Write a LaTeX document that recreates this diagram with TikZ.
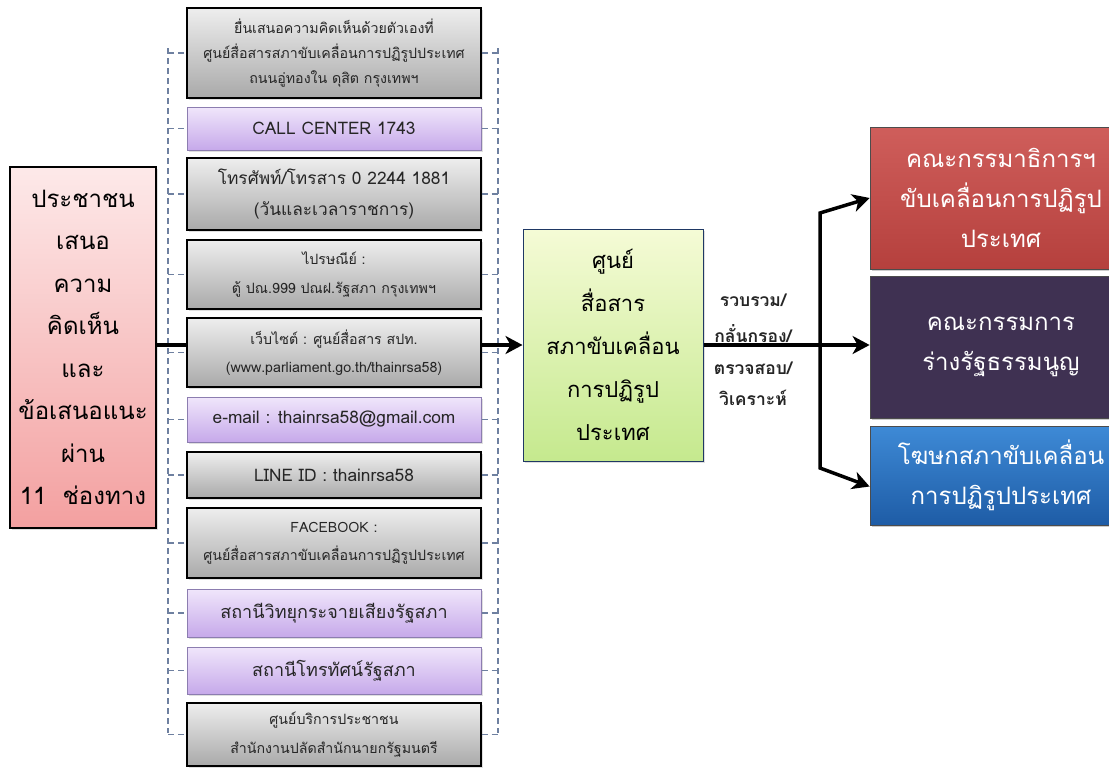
\documentclass[tikz,border=0pt]{standalone}
\usepackage{fontspec}
\newfontfamily\thai[Script=Thai]{Loma}
\usetikzlibrary{arrows.meta,shadows}
\definecolor{graytop}{HTML}{EEEEEE}
\definecolor{graybot}{HTML}{A9A9A9}
\definecolor{purtop}{HTML}{F0E6FB}
\definecolor{purbot}{HTML}{C6A9EA}
\definecolor{purdraw}{HTML}{8C7DB0}
\definecolor{pinktop}{HTML}{FDE9E9}
\definecolor{pinkbot}{HTML}{F3A0A0}
\definecolor{greentop}{HTML}{F5FBD6}
\definecolor{greenbot}{HTML}{C5E98E}
\definecolor{greendraw}{HTML}{1F3864}
\definecolor{redtop}{HTML}{CF5E5B}
\definecolor{redbot}{HTML}{B5403D}
\definecolor{darkpur}{HTML}{3F3152}
\definecolor{bluetop}{HTML}{3E8AD6}
\definecolor{bluebot}{HTML}{1E5CA6}
\definecolor{dashcol}{HTML}{6E80A0}
\definecolor{txtgray}{HTML}{262626}
\begin{document}
\begin{tikzpicture}[x=1pt,y=-1pt,
  chanbox/.style={minimum width=294pt, inner sep=0pt, align=center, text=txtgray,
    drop shadow={opacity=0.25, shadow xshift=1.5pt, shadow yshift=-1.5pt}},
  graybox/.style={chanbox, draw=black, line width=1.3pt, top color=graytop, bottom color=graybot},
  purbox/.style={chanbox, draw=purdraw, line width=1pt, top color=purtop, bottom color=purbot},
  tight/.style={font=\thai\fontsize{14.2}{25}\selectfont},
  small/.style={font=\thai\fontsize{14.2}{28.5}\selectfont},
  medium/.style={font=\thai\fontsize{17.3}{31}\selectfont},
  large/.style={font=\thai\fontsize{18}{25}\selectfont},
  bigbox/.style={inner sep=0pt, align=center},
  outbox/.style={bigbox, minimum width=262pt, draw=black!70, line width=0.8pt, text=white,
    font=\thai\fontsize{24}{40}\selectfont,
    drop shadow={opacity=0.4, shadow xshift=2pt, shadow yshift=-2pt}},
  bracket/.style={draw=dashcol, line width=1.6pt, dash pattern=on 6pt off 4pt},
  thickline/.style={line width=3.5pt, line join=miter},
  thickarrow/.style={thickline, -{Stealth[length=17pt,width=18pt,inset=5pt]}},
  lab/.style={font=\thai\bfseries\fontsize{17.5}{20}\selectfont, text=txtgray, inner sep=0pt}
]
\useasboundingbox[fill=white] (0,0) rectangle (1109,769);

% dashed bracket
\coordinate (lt) at (168,48);
\coordinate (lb) at (168,733);
\coordinate (rt) at (498,48);
\coordinate (rb) at (498,733);
\draw[bracket] (lt) -- (lb);
\draw[bracket] (rt) -- (rb);

% channel boxes
\node[graybox, tight, minimum height=90pt] (b1) at (334,53)
  {ยื่นเสนอความคิดเห็นด้วยตัวเองที่\\ศูนย์สื่อสารสภาขับเคลื่อนการปฏิรูปประเทศ\\ถนนอู่ทองใน ดุสิต กรุงเทพฯ};
\node[purbox, medium, minimum height=43pt] (b2) at (334,128.5) {CALL CENTER 1743};
\node[graybox, medium, minimum height=72pt] (b3) at (334,194)
  {โทรศัพท์/โทรสาร 0 2244 1881\\(วันและเวลาราชการ)};
\node[graybox, small, minimum height=69pt] (b4) at (334,274.5)
  {ไปรษณีย์ :\\ตู้ ปณ.999 ปณฝ.รัฐสภา กรุงเทพฯ};
\node[graybox, small, minimum height=69pt] (b5) at (334,352.5)
  {เว็บไซต์ : ศูนย์สื่อสาร สปท.\\(www.parliament.go.th/thainrsa58)};
\node[purbox, medium, minimum height=45pt] (b6) at (334,419.5) {e-mail : thainrsa58@gmail.com};
\node[graybox, medium, minimum height=46pt] (b7) at (334,475) {LINE ID : thainrsa58};
\node[graybox, small, minimum height=70pt] (b8) at (334,543)
  {FACEBOOK :\\ศูนย์สื่อสารสภาขับเคลื่อนการปฏิรูปประเทศ};
\node[purbox, large, minimum height=48pt] (b9) at (334,613) {สถานีวิทยุกระจายเสียงรัฐสภา};
\node[purbox, large, minimum height=47pt] (b10) at (334,670.5) {สถานีโทรทัศน์รัฐสภา};
\node[graybox, small, minimum height=63pt] (b11) at (334,734.5)
  {ศูนย์บริการประชาชน\\สำนักงานปลัดสำนักนายกรัฐมนตรี};

\foreach \b in {b1,b2,b3,b4,b5,b6,b7,b8,b9,b10,b11}{
  \draw[bracket] (\b.west -| lt) -- (\b.west);
  \draw[bracket] (\b.east) -- (\b.east -| rt);
}

% left box
\node[bigbox, draw=black, line width=1.3pt, top color=pinktop, bottom color=pinkbot,
  minimum width=146pt, minimum height=361pt, font=\thai\fontsize{24}{42.5}\selectfont,
  drop shadow={opacity=0.25, shadow xshift=1.5pt, shadow yshift=-1.5pt}] (lbox) at (83,347.5)
  {ประชาชน\\เสนอ\\ความ\\คิดเห็น\\และ\\ข้อเสนอแนะ\\ผ่าน\\11\ \ ช่องทาง};

% center box
\node[bigbox, draw=greendraw, line width=1pt, top color=greentop, bottom color=greenbot,
  minimum width=180pt, minimum height=232pt, font=\thai\fontsize{22}{43}\selectfont,
  drop shadow={opacity=0.25, shadow xshift=1.5pt, shadow yshift=-1.5pt}] (cbox) at (613,345)
  {ศูนย์\\สื่อสาร\\สภาขับเคลื่อน\\การปฏิรูป\\ประเทศ};

% output boxes
\node[outbox, top color=redtop, bottom color=redbot, minimum height=142pt] (r1) at (1001,198)
  {คณะกรรมาธิการฯ\\ขับเคลื่อนการปฏิรูป\\ประเทศ};
\node[outbox, fill=darkpur, minimum height=142pt] (r2) at (1001,347)
  {คณะกรรมการ\\ร่างรัฐธรรมนูญ};
\node[outbox, top color=bluetop, bottom color=bluebot, minimum height=99pt] (r3) at (1001,475.5)
  {โฆษกสภาขับเคลื่อน\\การปฏิรูปประเทศ};

% connectors
\draw[thickline] (lbox.east |- cbox) -- (b5.west |- cbox);
\draw[thickarrow] (b5.east |- cbox) -- (cbox.west);
\draw[thickarrow] (cbox.east) -- (r2.west |- cbox);
\coordinate (ftop) at (820,213);
\coordinate (fbot) at (820,468);
\draw[thickline, {Stealth[length=17pt,width=18pt,inset=5pt]}-{Stealth[length=17pt,width=18pt,inset=5pt]}]
  (r1.west) -- (ftop) -- (fbot) -- ([yshift=-11pt]r3.west);

% labels
\node[lab] (l1) at (753,300) {รวบรวม/};
\node[lab] (l2) at (753,334) {กลั่นกรอง/};
\node[lab] (l3) at (753,368) {ตรวจสอบ/};
\node[lab] (l4) at (753,398) {วิเคราะห์};
\end{tikzpicture}
\end{document}
